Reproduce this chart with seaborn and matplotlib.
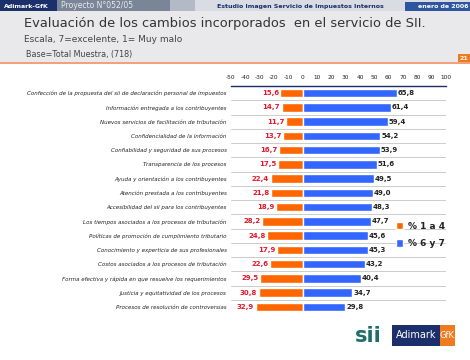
import numpy as np
import pandas as pd
import matplotlib
matplotlib.use("Agg")
import matplotlib.pyplot as plt
from matplotlib.patches import Rectangle
import seaborn as sns

ATRIBUTOS = [
    "Confección de la propuesta del sii de declaración personal de impuestos",
    "Información entregada a los contribuyentes",
    "Nuevos servicios de facilitación de tributación",
    "Confidencialidad de la información",
    "Confiabilidad y seguridad de sus procesos",
    "Transparencia de los procesos",
    "Ayuda y orientación a los contribuyentes",
    "Atención prestada a los contribuyentes",
    "Accesibilidad del sii para los contribuyentes",
    "Los tiempos asociados a los procesos de tributación",
    "Políticas de promoción de cumplimiento tributario",
    "Conocimiento y experticia de sus profesionales",
    "Costos asociados a los procesos de tributación",
    "Forma efectiva y rápida en que resuelve los requerimientos",
    "Justicia y equitatividad de los procesos",
    "Procesos de resolución de controversias",
]
PCT_1_A_4 = [15.6, 14.7, 11.7, 13.7, 16.7, 17.5, 22.4, 21.8,
             18.9, 28.2, 24.8, 17.9, 22.6, 29.5, 30.8, 32.9]
PCT_6_Y_7 = [65.8, 61.4, 59.4, 54.2, 53.9, 51.6, 49.5, 49.0,
             48.3, 47.7, 45.6, 45.3, 43.2, 40.4, 34.7, 29.8]
SERIES = ["% 1 a 4", "% 6 y 7"]
TICKS = list(range(-50, 101, 10))

ORANGE = "#FF6600"
BLUE = "#3366FF"
NAVY = "#1B2F6B"
RED = "#E4172B"

df = pd.concat([
    pd.DataFrame({"atributo": ATRIBUTOS, "valor": [-v for v in PCT_1_A_4], "serie": SERIES[0]}),
    pd.DataFrame({"atributo": ATRIBUTOS, "valor": PCT_6_Y_7, "serie": SERIES[1]}),
])

sns.set_theme(style="white")
plt.rcParams["font.family"] = ["DejaVu Sans"]

fig = plt.figure(figsize=(4.7, 3.6), dpi=100)
fig.patch.set_facecolor("white")

W, H = 470, 360


def px_rect(x0, y0, x1, y1, color, z=0):
    fig.patches.append(Rectangle((x0 / W, 1 - y1 / H), (x1 - x0) / W, (y1 - y0) / H,
                                 transform=fig.transFigure, color=color, zorder=z, lw=0))


def px_text(x, y, s, **kw):
    fig.text(x / W, 1 - y / H, s, **kw)


# encabezado
px_rect(0, 0, 470, 62, "#E9E9EB")
px_rect(0, 62, 470, 63.5, "#F4A07A")
px_rect(0, 0, 470, 11, "#D9DCE2")
px_rect(0, 0, 57, 11, NAVY)
px_rect(57, 0, 170, 11, "#7A8597")
px_rect(170, 0, 195, 11, "#B4BAC5")
px_rect(405, 2, 470, 11, "#2D55A0")
px_rect(458, 54, 470, 62, "#F07A1E")
px_text(4, 6, "Adimark-GfK", color="white", fontsize=4.5, fontweight="bold", va="center")
px_text(61, 6, "Proyecto N°052/05", color="#E8EAF0", fontsize=5.5, va="center")
px_text(300, 6.5, "Estudio Imagen Servicio de Impuestos Internos", color=NAVY,
        fontsize=4.5, fontweight="bold", va="center", ha="center")
px_text(468, 6.5, "enero de 2006", color="white", fontsize=4.5, fontweight="bold",
        va="center", ha="right")
px_text(464, 58.5, "21", color="white", fontsize=4.5, fontweight="bold", va="center", ha="center")
px_text(24, 23, "Evaluación de los cambios incorporados  en el servicio de SII.",
        color="#333333", fontsize=9.4, va="center")
px_text(24, 40, "Escala, 7=excelente, 1= Muy malo", color="#444444", fontsize=6.5, va="center")
px_text(26, 54, "Base=Total Muestra, (718)", color="#444444", fontsize=5.8, va="center")

# grafico
ax = fig.add_axes([231 / W, 1 - 314 / H, 215 / W, 228 / H])
sns.barplot(data=df, x="valor", y="atributo", hue="serie", dodge=False,
            palette=[ORANGE, BLUE], width=0.58, saturation=1, ax=ax, legend=True)
ax.set_xlim(-50, 100)
ax.set_ylim(len(ATRIBUTOS) - 0.5, -0.5)
ax.xaxis.tick_top()
ax.set_xticks(TICKS)
ax.set_xticklabels([str(t) for t in TICKS], fontsize=4.2, color="#222222")
ax.tick_params(axis="x", length=0, pad=4)
ax.tick_params(axis="y", length=0, pad=3)
ax.set_yticks(range(len(ATRIBUTOS)))
ax.set_yticklabels(ATRIBUTOS, fontsize=4, style="italic", color="#222222")
ax.set_xlabel("")
ax.set_ylabel("")
for s in ["left", "right", "bottom"]:
    ax.spines[s].set_visible(False)
ax.spines["top"].set_linestyle((0, (1, 1)))
ax.spines["top"].set_color(NAVY)
ax.spines["top"].set_linewidth(1.0)
for i in range(len(ATRIBUTOS)):
    ax.axhline(i + 0.5, color="#CCCCCC", lw=0.7, zorder=0)

for i, (neg, pos) in enumerate(zip(PCT_1_A_4, PCT_6_Y_7)):
    ax.text(-neg - 1, i, f"{neg:.1f}".replace(".", ","), ha="right", va="center",
            fontsize=5, fontweight="bold", color=RED)
    ax.text(pos + 0.5, i, f"{pos:.1f}".replace(".", ","), ha="left", va="center",
            fontsize=5, fontweight="bold", color="#222222")

leg = ax.legend(loc="upper left", bbox_to_anchor=(0.75, 0.42), frameon=False,
                fontsize=6.5, handlelength=0.8, handleheight=0.9, handletextpad=0.5,
                labelspacing=0.9, borderaxespad=0)
for t in leg.get_texts():
    t.set_fontweight("bold")
    t.set_color("#222222")

# logos
px_text(368, 336, "sii", color="#1E6E6A", fontsize=15, fontweight="bold",
        va="center", ha="center")
px_rect(392, 325, 440, 346, NAVY)
px_rect(440, 325, 455, 346, "#F07A1E")
px_text(416, 335.5, "Adimark", color="white", fontsize=7, va="center", ha="center")
px_text(447.5, 335.5, "GfK", color="white", fontsize=6, va="center", ha="center")

fig.savefig("out.png", dpi=100)
